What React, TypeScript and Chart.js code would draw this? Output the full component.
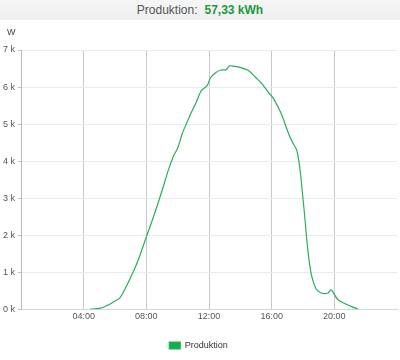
import React, { useEffect, useRef } from "react";
import { Chart, registerables } from "chart.js";

Chart.register(...registerables);

const hours = [4.4, 5.0, 5.5, 6.0, 6.3, 6.7, 7.1, 7.5, 8.0, 8.5, 9.0, 9.4, 9.75, 10.0, 10.3, 10.6, 10.9, 11.2, 11.5, 11.7, 11.9, 12.1, 12.4, 12.75, 13.1, 13.3, 13.6, 14.0, 14.5, 15.0, 15.4, 15.8, 16.1, 16.6, 17.1, 17.4, 17.6, 17.8, 17.95, 18.1, 18.3, 18.5, 18.65, 18.85, 19.1, 19.35, 19.6, 19.8, 20.0, 20.2, 20.5, 21.0, 21.5];
const watts = [0, 20, 100, 220, 300, 600, 950, 1350, 1950, 2550, 3200, 3750, 4150, 4350, 4750, 5050, 5340, 5600, 5900, 5970, 6050, 6250, 6380, 6460, 6470, 6570, 6560, 6530, 6450, 6250, 6080, 5850, 5700, 5290, 4720, 4450, 4300, 3800, 3200, 2550, 1630, 1000, 750, 540, 450, 420, 440, 520, 400, 270, 190, 90, 0];
const xTicks = [4, 8, 12, 16, 20];
const yTicks = [0, 1000, 2000, 3000, 4000, 5000, 6000, 7000];
const seriesLabel = "Produktion";
const headerLabel = "Produktion:";
const headerValue = "57,33 kWh";
const unitLabel = "W";

const FONT = "'Liberation Sans', Arial, sans-serif";

const unitPlugin = {
  id: "unitLabel",
  afterDraw(chart: any) {
    const ctx = chart.ctx;
    ctx.save();
    ctx.font = `9px ${FONT}`;
    ctx.fillStyle = "#444";
    ctx.textAlign = "left";
    ctx.textBaseline = "middle";
    ctx.fillText(unitLabel, 7, 13);
    ctx.restore();
  },
};

export default function App() {
  const ref = useRef<HTMLCanvasElement | null>(null);
  useEffect(() => {
    document.body.style.margin = "0";
    const chart = new Chart(ref.current!, {
      type: "line",
      data: {
        datasets: [
          {
            label: seriesLabel,
            data: hours.map((h, i) => ({ x: h, y: watts[i] })),
            borderColor: "#2aae5c",
            backgroundColor: "#0db14b",
            borderWidth: 1.2,
            pointRadius: 0,
            tension: 0.3,
          },
        ],
      },
      options: {
        animation: false,
        responsive: false,
        maintainAspectRatio: false,
        layout: { padding: { left: 0, right: 3, top: 30, bottom: 0 } },
        plugins: {
          title: { display: false },
          legend: {
            position: "bottom",
            labels: {
              boxWidth: 11,
              boxHeight: 7,
              color: "#333",
              font: { family: FONT, size: 9 },
              padding: 12,
            },
          },
          tooltip: { enabled: false },
        },
        scales: {
          x: {
            type: "linear",
            min: 0,
            max: 24,
            afterBuildTicks: (axis: any) => {
              axis.ticks = xTicks.map((v) => ({ value: v }));
            },
            afterFit: (axis: any) => {
              axis.height += 5;
            },
            ticks: {
              color: "#555",
              font: { family: FONT, size: 9 },
              maxRotation: 0,
              padding: 2,
              callback: (v: any) => String(v).padStart(2, "0") + ":00",
            },
            grid: { color: "#c8c8c8", drawTicks: false },
            border: { color: "#d0d8dc" },
          },
          y: {
            min: 0,
            max: 7000,
            afterBuildTicks: (axis: any) => {
              axis.ticks = yTicks.map((v) => ({ value: v }));
            },
            ticks: {
              color: "#555",
              font: { family: FONT, size: 9 },
              padding: 3,
              callback: (v: any) => Number(v) / 1000 + " k",
            },
            grid: { color: "#e3ecf0", tickLength: 3, tickColor: "#c0c0c0" },
            border: { color: "#b8b8b8" },
          },
        },
      },
      plugins: [unitPlugin],
    } as any);
    return () => chart.destroy();
  }, []);
  return (
    <div style={{ width: 400, height: 360, fontFamily: FONT }}>
      <div
        style={{
          height: 20,
          background: "linear-gradient(#f6f6f6, #eeeeee)",
          display: "flex",
          justifyContent: "center",
          alignItems: "center",
          fontSize: 12,
        }}
      >
        <span style={{ color: "#555" }}>{headerLabel}</span>
        <span style={{ color: "#1a9a3c", fontWeight: "bold", marginLeft: 7 }}>{headerValue}</span>
      </div>
      <canvas ref={ref} width={400} height={340} style={{ display: "block" }} />
    </div>
  );
}
